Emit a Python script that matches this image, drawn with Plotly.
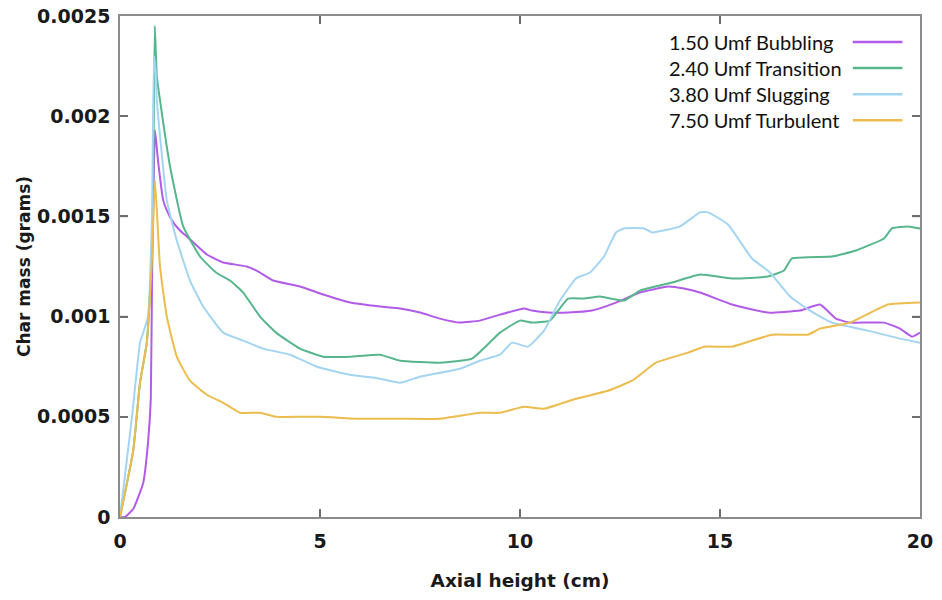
import plotly.graph_objects as go

# ---- data ----
names = ["1.50 Umf Bubbling", "2.40 Umf Transition", "3.80 Umf Slugging", "7.50 Umf Turbulent"]

x_bub = [0, 0.12, 0.33, 0.58, 0.7, 0.77, 0.8, 0.875, 0.95, 1.08, 1.17, 1.33, 1.5, 1.67, 2.0, 2.17, 2.58,
         3.17, 3.5, 3.83, 4.5, 5.08, 5.75, 6.5, 7.0, 7.5, 8.0, 8.5, 9.0, 9.5, 10.1, 10.3, 10.7, 11.2,
         11.8, 12.4, 13.0, 13.7, 14.1, 14.5, 15.3, 16.2, 17.0, 17.5, 17.9, 18.25, 19.1, 19.5, 19.8, 20]
y_bub = [0, 0, 0.00004, 0.00017, 0.00037, 0.00059, 0.00117, 0.00193, 0.00178, 0.00158, 0.00153,
         0.00147, 0.00143, 0.0014, 0.00134, 0.00131, 0.00127, 0.00125, 0.00122, 0.00118, 0.00115,
         0.00111, 0.00107, 0.00105, 0.00104, 0.00102, 0.00099, 0.00097, 0.00098, 0.00101, 0.00104,
         0.00103, 0.00102, 0.00102, 0.00103, 0.00107, 0.00112, 0.00115, 0.00114, 0.00112, 0.00106,
         0.00102, 0.00103, 0.00106, 0.00099, 0.00097, 0.00097, 0.00094, 0.0009, 0.00092]

x_tra = [0, 0.33, 0.5, 0.67, 0.8, 0.84, 0.87, 0.92, 1.0, 1.25, 1.58, 2.0, 2.4, 2.75, 3.08, 3.5, 3.9,
         4.5, 5.08, 5.75, 6.5, 7.0, 8.0, 8.8, 9.5, 10.0, 10.3, 10.75, 11.2, 11.6, 12.0, 12.6, 13.0,
         13.8, 14.5, 15.3, 16.2, 16.6, 16.8, 17.8, 18.4, 19.1, 19.3, 19.7, 20]
y_tra = [0, 0.00033, 0.00067, 0.00087, 0.0013, 0.0019, 0.00245, 0.0022, 0.00208, 0.00175, 0.00145,
         0.0013, 0.00122, 0.00118, 0.00112, 0.001, 0.00092, 0.00084, 0.0008, 0.0008, 0.00081,
         0.00078, 0.00077, 0.00079, 0.00092, 0.00098, 0.00097, 0.00098, 0.00109, 0.00109, 0.0011,
         0.00108, 0.00113, 0.00117, 0.00121, 0.00119, 0.0012, 0.00123, 0.00129, 0.0013, 0.00133,
         0.00139, 0.00144, 0.00145, 0.00144]

x_slu = [0, 0.3, 0.5, 0.58, 0.7, 0.8, 0.85, 0.9, 0.92, 1.17, 1.42, 1.75, 2.08, 2.58, 3.08, 3.58,
         4.25, 4.92, 5.75, 6.5, 7.0, 7.5, 8.5, 9.0, 9.5, 9.8, 10.2, 10.6, 11.0, 11.4, 11.75, 12.1,
         12.4, 12.6, 13.1, 13.3, 14.0, 14.5, 14.7, 15.2, 15.8, 16.25, 16.75, 17.25, 17.8, 18.7, 19.5, 20]
y_slu = [0, 0.0005, 0.00087, 0.00092, 0.001, 0.0015, 0.0023, 0.0022, 0.00208, 0.00158, 0.00138,
         0.00118, 0.00105, 0.00092, 0.00088, 0.00084, 0.00081, 0.00075, 0.00071, 0.00069, 0.00067,
         0.0007, 0.00074, 0.00078, 0.00081, 0.00087, 0.00085, 0.00093, 0.00108, 0.00119, 0.00122,
         0.0013, 0.00142, 0.00144, 0.00144, 0.00142, 0.00145, 0.00152, 0.00152, 0.00146, 0.00129,
         0.00122, 0.0011, 0.00103, 0.00097, 0.00093, 0.00089, 0.00087]

x_tur = [0, 0.33, 0.5, 0.67, 0.8, 0.875, 1.0, 1.17, 1.42, 1.75, 2.17, 2.58, 3.0, 3.5, 3.9, 4.5, 5.0,
         6.0, 7.0, 8.0, 9.0, 9.5, 10.1, 10.6, 11.4, 12.2, 12.8, 13.4, 14.2, 14.6, 15.3, 16.3, 17.2,
         17.5, 18.25, 19.2, 20]
y_tur = [0, 0.00033, 0.00067, 0.00087, 0.0013, 0.00168, 0.00125, 0.001, 0.0008, 0.00068, 0.00061,
         0.00057, 0.00052, 0.00052, 0.0005, 0.0005, 0.0005, 0.00049, 0.00049, 0.00049, 0.00052,
         0.00052, 0.00055, 0.00054, 0.00059, 0.00063, 0.00068, 0.00077, 0.00082, 0.00085, 0.00085,
         0.00091, 0.00091, 0.00094, 0.00097, 0.00106, 0.00107]

x_ticks = [0, 5, 10, 15, 20]
y_ticks = [0, 0.0005, 0.001, 0.0015, 0.002, 0.0025]
y_ticktext = ["0", "0.0005", "0.001", "0.0015", "0.002", "0.0025"]

colors = ["#B25BE8", "#56B68C", "#A3D5F3", "#EDBC4E"]
series = [(x_bub, y_bub), (x_tra, y_tra), (x_slu, y_slu), (x_tur, y_tur)]

fig = go.Figure()
for (xs, ys), nm, c in zip(series, names, colors):
    fig.add_trace(go.Scatter(x=xs, y=ys, mode="lines", name=nm,
                             line=dict(color=c, width=2, shape="spline", smoothing=0.4),
                             showlegend=False))

# inward tick marks on all four sides (gnuplot style), placed at the tick values
tick_col = "#6e6e6e"
tx = 8 / 800   # tick length as a fraction of the plot width
ty = 8 / 501   # tick length as a fraction of the plot height
for v in x_ticks[1:-1]:
    fig.add_shape(type="line", xref="x", yref="paper", x0=v, x1=v, y0=0, y1=ty,
                  line=dict(color=tick_col, width=1.5), layer="above")
    fig.add_shape(type="line", xref="x", yref="paper", x0=v, x1=v, y0=1 - ty, y1=1,
                  line=dict(color=tick_col, width=1.5), layer="above")
for v in y_ticks[1:-1]:
    fig.add_shape(type="line", xref="paper", yref="y", x0=0, x1=tx, y0=v, y1=v,
                  line=dict(color=tick_col, width=1.5), layer="above")
    fig.add_shape(type="line", xref="paper", yref="y", x0=1 - tx, x1=1, y0=v, y1=v,
                  line=dict(color=tick_col, width=1.5), layer="above")

# custom legend: text on the left, line sample on the right (gnuplot style)
row_y = [0.948, 0.896, 0.844, 0.792]
for nm, c, ry in zip(names, colors, row_y):
    fig.add_annotation(xref="paper", yref="paper", x=0.685, y=ry, text=nm, showarrow=False,
                       xanchor="left", yanchor="middle", bgcolor="white", borderpad=0,
                       font=dict(family="Lato", size=20, color="#111111"))
    fig.add_shape(type="line", xref="paper", yref="paper", x0=0.916, x1=0.978, y0=ry, y1=ry,
                  line=dict(color=c, width=2.5))

tickfont = dict(family="DejaVu Sans", size=19, color="#1a1a1a", weight="bold")
axis_common = dict(showline=True, linecolor="#8c8c8c", linewidth=1.5, mirror="allticks",
                   ticks="inside", ticklen=8, tickcolor=tick_col, tickwidth=1.5,
                   showgrid=False, zeroline=False, tickfont=tickfont, automargin=False,
                   ticklabeloverflow="allow")

fig.update_layout(
    width=942, height=600,
    margin=dict(l=120, r=22, t=16, b=83),
    paper_bgcolor="white", plot_bgcolor="white",
    xaxis=dict(range=[0, 20], tickvals=x_ticks, ticklabelstandoff=6,
               title=dict(text="Axial height (cm)", standoff=24,
                          font=dict(family="DejaVu Sans", size=18.5, color="#1a1a1a", weight="bold")),
               **axis_common),
    yaxis=dict(range=[0, 0.0025], tickvals=y_ticks, ticktext=y_ticktext, ticklabelstandoff=4,
               title=dict(text="Char mass (grams)", standoff=2,
                          font=dict(family="DejaVu Sans", size=17, color="#1a1a1a", weight="bold")),
               **axis_common),
)

# remove the browser's default 8px body margin so the figure fills the window exactly
fig.write_html("out.html", config={"displayModeBar": False},
               post_script="document.body.style.margin='0px'; document.body.style.overflow='hidden';")
